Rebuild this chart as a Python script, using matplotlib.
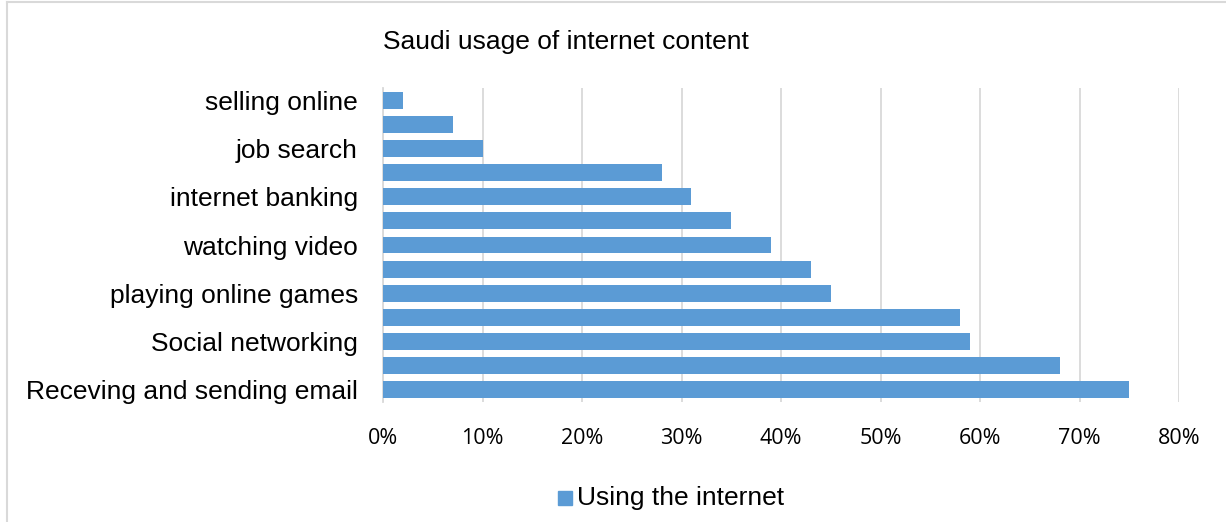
import matplotlib
matplotlib.use("Agg")
import matplotlib.pyplot as plt
from matplotlib.lines import Line2D
from matplotlib.ticker import FuncFormatter, MultipleLocator

title = "Saudi usage of internet content"
series_name = "Using the internet"
# bottom to top
categories = ["Receving and sending email", "", "Social networking", "",
              "playing online games", "", "watching video", "",
              "internet banking", "", "job search", "", "selling online"]
values = [75, 68, 59, 58, 45, 43, 39, 35, 31, 28, 10, 7, 2]

bar_color = "#5B9BD5"
W, H = 1226, 522
fig = plt.figure(figsize=(W / 100, H / 100), dpi=100)
ax = fig.add_axes([383 / W, 1 - 402 / H, (1179 - 383) / W, (402 - 88) / H])

y = list(range(len(values)))
ax.barh(y, values, height=0.7, color=bar_color, zorder=3)
ax.set_ylim(-0.5, len(values) - 0.5)
ax.set_xlim(0, 80)
ax.xaxis.set_major_locator(MultipleLocator(10))
ax.xaxis.set_major_formatter(FuncFormatter(lambda v, p: f"{int(v)}%"))
ax.grid(axis="x", color="#D9D9D9", linewidth=1.3, zorder=0)
ax.set_yticks(y)
ax.set_yticklabels(categories, fontfamily="Liberation Sans", fontsize=19)
ax.tick_params(axis="y", length=0, pad=18)
ax.tick_params(axis="x", length=0, pad=19, labelsize=15.5)
for lab in ax.get_xticklabels():
    lab.set_fontfamily("Open Sans")
for s in ["top", "right", "bottom"]:
    ax.spines[s].set_visible(False)
ax.spines["left"].set_color("#D9D9D9")
ax.spines["left"].set_linewidth(1.3)

fig.text(383 / W, 1 - 42 / H, title, fontfamily="Liberation Sans", fontsize=19,
         ha="left", va="center")

# legend
fig.patches.append(plt.Rectangle((558 / W, 1 - 505 / H), 14 / W, 14 / H,
                                 transform=fig.transFigure, color=bar_color))
fig.text(577 / W, 1 - 498 / H, series_name, fontfamily="Liberation Sans",
         fontsize=19, ha="left", va="center")

# chart border (left & top)
fig.add_artist(Line2D([7 / W, 7 / W], [0, 1 - 2 / H], transform=fig.transFigure,
                      color="#D9D9D9", linewidth=1.5))
fig.add_artist(Line2D([7 / W, 1], [1 - 2 / H, 1 - 2 / H], transform=fig.transFigure,
                      color="#D9D9D9", linewidth=1.5))

fig.savefig("out.png", dpi=100)
